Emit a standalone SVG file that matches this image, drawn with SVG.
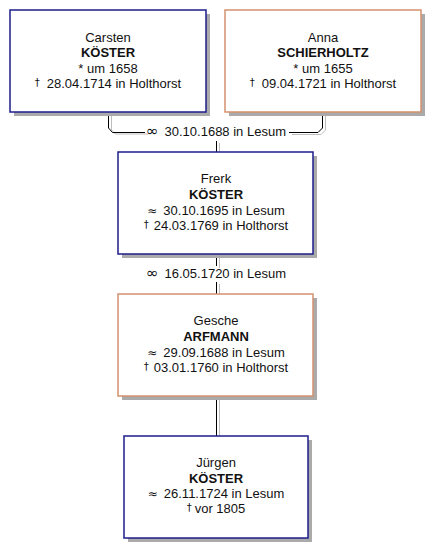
<svg xmlns="http://www.w3.org/2000/svg" width="440" height="558" viewBox="0 0 440 558">
<style>
.bg{fill:#ffffff}
.shadow{fill:#aaaaaa}
.m{fill:#ffffff;stroke:#1c1c8c;stroke-width:1.5}
.f{fill:#ffffff;stroke:#d4916c;stroke-width:1.5}
text{font-family:"Liberation Sans",Arial,sans-serif;font-size:13px;fill:#111111;text-anchor:middle}
.b{font-weight:bold}
.sym{font-family:"DejaVu Sans",sans-serif;font-size:12px}
.ring{font-family:"DejaVu Sans",sans-serif;font-size:15px}
.d{font-family:"DejaVu Sans",sans-serif;font-size:10px;fill:#111111}
.ln{fill:none;stroke:#000000;stroke-width:1}
.lns{fill:none;stroke:#bdbdbd;stroke-width:1}
</style>
<rect class="bg" width="440" height="558"/>
<g id="connectors">
<g transform="translate(3,2)">
<path class="lns" d="M108.5,112 V128 L112.5,132 H145"/>
<path class="lns" d="M289,132.5 H318 L322.5,128 V112"/>
<path class="lns" d="M216.5,141 V152"/>
<path class="lns" d="M216.5,255 V266"/>
<path class="lns" d="M216.5,282 V293"/>
<path class="lns" d="M216.5,397 V434"/>
</g>
<path class="ln" d="M108.5,112 V128 L112.5,132.5 H145"/>
<path class="ln" d="M289,132.5 H318 L322.5,128 V112"/>
<path class="ln" d="M216.5,141 V152"/>
<path class="ln" d="M216.5,255 V266"/>
<path class="ln" d="M216.5,282 V294"/>
<path class="ln" d="M216.5,397 V436"/>
<text x="216" y="136"><tspan class="ring">∞</tspan><tspan dx="6">30.10.1688 in Lesum</tspan></text>
<text x="216" y="278"><tspan class="ring">∞</tspan><tspan dx="6">16.05.1720 in Lesum</tspan></text>
</g>
<g id="carsten">
<rect class="shadow" x="14" y="14" width="196" height="102"/>
<rect class="m" x="10" y="10" width="196" height="102"/>
<text x="108" y="42">Carsten</text>
<text class="b" x="108" y="57">KÖSTER</text>
<text x="108" y="73">* um 1658</text>
<text x="108" y="88"><tspan class="d" dy="-2">†</tspan><tspan dy="2" dx="7">28.04.1714 in Holthorst</tspan></text>
</g>
<g id="anna">
<rect class="shadow" x="229" y="14" width="196" height="102"/>
<rect class="f" x="225" y="10" width="196" height="102"/>
<text x="323" y="42">Anna</text>
<text class="b" x="323" y="57">SCHIERHOLTZ</text>
<text x="323" y="73">* um 1655</text>
<text x="323" y="88"><tspan class="d" dy="-2">†</tspan><tspan dy="2" dx="7">09.04.1721 in Holthorst</tspan></text>
</g>
<g id="frerk">
<rect class="shadow" x="122" y="156" width="195" height="102"/>
<rect class="m" x="118" y="152" width="195" height="102"/>
<text x="216" y="183">Frerk</text>
<text class="b" x="216" y="199">KÖSTER</text>
<text x="216" y="215"><tspan class="sym">≈</tspan><tspan dx="6">30.10.1695 in Lesum</tspan></text>
<text x="216" y="230"><tspan class="d" dy="-2">†</tspan><tspan dy="2" dx="5">24.03.1769 in Holthorst</tspan></text>
</g>
<g id="gesche">
<rect class="shadow" x="122" y="298" width="195" height="102"/>
<rect class="f" x="118" y="294" width="195" height="102"/>
<text x="216" y="325">Gesche</text>
<text class="b" x="216" y="341">ARFMANN</text>
<text x="216" y="357"><tspan class="sym">≈</tspan><tspan dx="6">29.09.1688 in Lesum</tspan></text>
<text x="216" y="372"><tspan class="d" dy="-2">†</tspan><tspan dy="2" dx="5">03.01.1760 in Holthorst</tspan></text>
</g>
<g id="juergen">
<rect class="shadow" x="128" y="440" width="184" height="102"/>
<rect class="m" x="124" y="436" width="184" height="102"/>
<text x="216" y="467">Jürgen</text>
<text class="b" x="216" y="483">KÖSTER</text>
<text x="216" y="498"><tspan class="sym">≈</tspan><tspan dx="6">26.11.1724 in Lesum</tspan></text>
<text x="216" y="513"><tspan class="d" dy="-2">†</tspan><tspan dy="2" dx="3">vor 1805</tspan></text>
</g>
</svg>
